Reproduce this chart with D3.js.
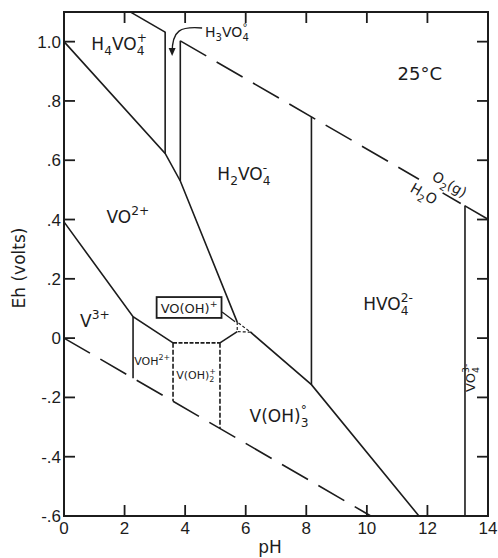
<!DOCTYPE html>
<html><head><meta charset="utf-8">
<script src="https://cdn.jsdelivr.net/npm/d3@7"></script>
<style>
html,body{margin:0;padding:0;background:#fff;}
svg{display:block;}
</style></head><body>
<svg id="chart" width="498" height="558"></svg>
<script>
// ---- Axis ticks ----
const phTicks = [0, 2, 4, 6, 8, 10, 12, 14];
const ehTicks = [-0.6, -0.4, -0.2, 0, 0.2, 0.4, 0.6, 0.8, 1.0];
const ehTickLabels = ["-.6", "-.4", "-.2", "0", ".2", ".4", ".6", ".8", "1.0"];

// ---- Water stability limits (pH, Eh) ----
const o2Line = [[0, 1.23], [14, 0.401]];
const h2Line = [[0, 0], [14, -0.829]];
// pH spans of each drawn piece: [from, to, style]
const o2Pieces = [[2.2, 3.34, "solid"], [3.84, 11.72, "dash"], [12.5, 13.1, "solid"], [13.24, 14, "solid"]];
const h2Pieces = [[0, 10.13, "dash"]];

// ---- Field boundaries (pH, Eh) ----
const vanadateUpper = [[0, 1.0], [3.34, 0.623], [3.84, 0.53], [5.72, 0.054]];
const vanadateLower = [[6.16, 0.02], [8.17, -0.157], [11.72, -0.6]];
const vo2v3Line = [[0, 0.392], [2.28, 0.072], [3.6, -0.016]];
const voh2Link = [[5.15, -0.016], [5.72, 0.022]];
const voh2Top = [[3.6, -0.016], [5.15, -0.016]];
const voohField = [[5.72, 0.054], [5.72, 0.022], [6.16, 0.02], [5.72, 0.054]];
// vertical boundaries: [pH, Eh top, Eh bottom]
const solidVerticals = [[2.28, 0.072, -0.135], [3.34, 1.033, 0.623], [3.84, 1.003, 0.53], [8.17, 0.747, -0.157], [13.24, 0.447, -0.6]];
const dashedVerticals = [[3.6, -0.016, -0.213], [5.15, -0.016, -0.305]];

// ---- Species labels: text, pH, Eh, font size ----
const fieldLabels = [
  ["H_4VO_4^+", 1.82, 0.972, 17],
  ["H_2VO_4^-", 5.94, 0.533, 17],
  ["VO^{2+}", 2.11, 0.388, 17],
  ["V^{3+}", 1.02, 0.038, 17],
  ["VOH^{2+}", 2.91, -0.091, 11],
  ["V(OH)_2^+", 4.36, -0.138, 11],
  ["HVO_4^{2-}", 10.7, 0.095, 17],
  ["V(OH)_3^°", 7.1, -0.283, 17],
  ["H_3VO_4^°", 5.38, 1.016, 14]
];
const tempLabel = ["25°C", 11.75, 0.871];
const boxLabel = ["VO(OH)^+", 4.13, 0.085, 13];
const boxLeader = [[5.22, 0.088], [5.65, 0.055]];
const vo4Label = ["VO_4^{3-}", 13.57, -0.134, 13];
const arrowPath = [[4.56, 1.046], [3.85, 1.052], [3.57, 1.04], [3.57, 0.962]];

const svg = d3.select("#chart");
const ink = "#1c1c1c";
const x = d3.scaleLinear().domain([0, 14]).range([64, 488]);
const y = d3.scaleLinear().domain([-0.6, 1.1]).range([516, 12]);
const line = d3.line().x(d => x(d[0])).y(d => y(d[1]));

// writes chemical formulas: _x subscript, ^x superscript (stacked over a preceding subscript)
function chem(text, str, size) {
  const toks = [];
  const re = /([_^])(?:\{([^}]*)\}|(.))|([^_^]+)/g;
  let m;
  while ((m = re.exec(str))) {
    if (m[4]) toks.push({t: m[4], k: "n"});
    else toks.push({t: m[2] !== undefined ? m[2] : m[3], k: m[1] === "_" ? "b" : "p"});
  }
  let cur = 0, lastSubW = 0, prev = "n";
  toks.forEach(tok => {
    const target = tok.k === "b" ? 0.3 * size : tok.k === "p" ? -0.45 * size : 0;
    const ts = text.append("tspan").text(tok.t)
      .attr("font-size", tok.k === "n" ? size : size * 0.72)
      .attr("dy", target - cur);
    if (tok.k === "p" && prev === "b") ts.attr("dx", -lastSubW);
    if (tok.k === "b") lastSubW = ts.node().getComputedTextLength();
    cur = target; prev = tok.k;
  });
  return text;
}

// ---- frame ----
svg.append("rect").attr("x", x(0)).attr("y", y(1.1))
  .attr("width", x(14) - x(0)).attr("height", y(-0.6) - y(1.1))
  .attr("fill", "none").attr("stroke", ink).attr("stroke-width", 2);

// ---- ticks (inward on all four sides) ----
const tl = 11;
const ticks = svg.append("g").attr("stroke", ink).attr("stroke-width", 1.8);
phTicks.slice(1, -1).forEach(p => {
  ticks.append("line").attr("x1", x(p)).attr("x2", x(p)).attr("y1", y(-0.6)).attr("y2", y(-0.6) - tl);
  ticks.append("line").attr("x1", x(p)).attr("x2", x(p)).attr("y1", y(1.1)).attr("y2", y(1.1) + tl);
});
ehTicks.slice(1).forEach(e => {
  ticks.append("line").attr("x1", x(0)).attr("x2", x(0) + tl).attr("y1", y(e)).attr("y2", y(e));
  ticks.append("line").attr("x1", x(14)).attr("x2", x(14) - tl).attr("y1", y(e)).attr("y2", y(e));
});

// tick labels
const tf = "'Liberation Sans', Arial, sans-serif";
svg.append("g").selectAll("text").data(phTicks).join("text")
  .attr("x", d => x(d)).attr("y", 534).attr("text-anchor", "middle")
  .attr("font-family", tf).attr("font-size", 17).attr("fill", ink).text(d => d);
svg.append("g").selectAll("text").data(ehTicks).join("text")
  .attr("x", 61).attr("y", d => y(d) + 6).attr("text-anchor", "end")
  .attr("font-family", tf).attr("font-size", 17).attr("fill", ink)
  .text((d, i) => ehTickLabels[i]);

// axis titles
const lf = "'DejaVu Sans', sans-serif";
svg.append("text").attr("x", 270).attr("y", 553).attr("text-anchor", "middle")
  .attr("font-family", lf).attr("font-size", 17).attr("fill", ink).text("pH");
svg.append("text").attr("transform", "translate(25,268) rotate(-90)").attr("text-anchor", "middle")
  .attr("font-family", lf).attr("font-size", 17).attr("fill", ink).text("Eh (volts)");

// ---- water lines ----
const g = svg.append("g").attr("fill", "none").attr("stroke", ink).attr("stroke-width", 1.6);
function waterPieces(ends, pieces) {
  const eh = d3.scaleLinear().domain([ends[0][0], ends[1][0]]).range([ends[0][1], ends[1][1]]);
  pieces.forEach(([a, b, s]) => {
    g.append("path").attr("d", line([[a, eh(a)], [b, eh(b)]]))
      .attr("stroke-dasharray", s === "dash" ? "30 12" : null);
  });
}
waterPieces(o2Line, o2Pieces);
waterPieces(h2Line, h2Pieces);

// ---- field boundaries ----
[vanadateUpper, vanadateLower, vo2v3Line, voh2Link].forEach(pts => g.append("path").attr("d", line(pts)));
solidVerticals.forEach(([p, a, b]) => g.append("path").attr("d", line([[p, a], [p, b]])));
dashedVerticals.forEach(([p, a, b]) => g.append("path").attr("d", line([[p, a], [p, b]]))
  .attr("stroke-dasharray", "5 2"));
g.append("path").attr("d", line(voh2Top)).attr("stroke-dasharray", "4 1.5");
g.append("path").attr("d", line(voohField)).attr("stroke-dasharray", "3 2").attr("stroke-width", 1.2);

// ---- labels ----
fieldLabels.forEach(([s, p, e, sz]) => {
  chem(svg.append("text").attr("x", x(p)).attr("y", y(e)).attr("text-anchor", "middle")
    .attr("font-family", lf).attr("fill", ink), s, sz);
});
svg.append("text").attr("x", x(tempLabel[1])).attr("y", y(tempLabel[2])).attr("text-anchor", "middle")
  .attr("font-family", lf).attr("font-size", 18).attr("fill", ink).text(tempLabel[0]);

// boxed VO(OH)+ with leader
const boxG = svg.append("g");
const boxRect = boxG.append("rect");
const bt = chem(boxG.append("text").attr("x", x(boxLabel[1])).attr("y", y(boxLabel[2]))
  .attr("text-anchor", "middle").attr("font-family", lf).attr("fill", ink), boxLabel[0], boxLabel[3]);
const bb = bt.node().getBBox();
boxRect.attr("x", bb.x - 4).attr("y", bb.y - 1).attr("width", bb.width + 8).attr("height", bb.height + 3)
  .attr("fill", "#fff").attr("stroke", ink).attr("stroke-width", 1.8);
g.append("path").attr("d", line(boxLeader)).attr("stroke-width", 1.3);

// vertical VO4 3- label
chem(svg.append("text").attr("transform", `translate(${x(vo4Label[1])},${y(vo4Label[2])}) rotate(-90)`)
  .attr("text-anchor", "middle").attr("font-family", lf).attr("fill", ink), vo4Label[0], vo4Label[3]);

// O2(g) / H2O labels straddling the upper water line
const slopeDeg = Math.atan2(y(o2Line[1][1]) - y(o2Line[0][1]), x(o2Line[1][0]) - x(o2Line[0][0])) * 180 / Math.PI;
const o2eh = d3.scaleLinear().domain([0, 14]).range([o2Line[0][1], o2Line[1][1]]);
[["O_2(g)", 12.55, -6], ["H_2O", 12.05, 15]].forEach(([s, p, off]) => {
  chem(svg.append("text")
    .attr("transform", `translate(${x(p)},${y(o2eh(p))}) rotate(${slopeDeg}) translate(0,${off})`)
    .attr("text-anchor", "middle").attr("font-family", lf).attr("fill", ink), s, 14);
});

// curved pointer to the narrow H3VO4 field
const ap = d3.path();
ap.moveTo(x(arrowPath[0][0]), y(arrowPath[0][1]));
ap.bezierCurveTo(x(arrowPath[1][0]), y(arrowPath[1][1]), x(arrowPath[2][0]), y(arrowPath[2][1]), x(arrowPath[3][0]), y(arrowPath[3][1]));
g.append("path").attr("d", ap.toString()).attr("stroke-width", 1.4);
const tipX = x(arrowPath[3][0]), tipY = y(arrowPath[3][1]) + 3;
svg.append("path").attr("d", `M${tipX - 3.5},${tipY - 8}L${tipX + 3.5},${tipY - 8}L${tipX},${tipY}Z`).attr("fill", ink);
</script>
</body></html>
